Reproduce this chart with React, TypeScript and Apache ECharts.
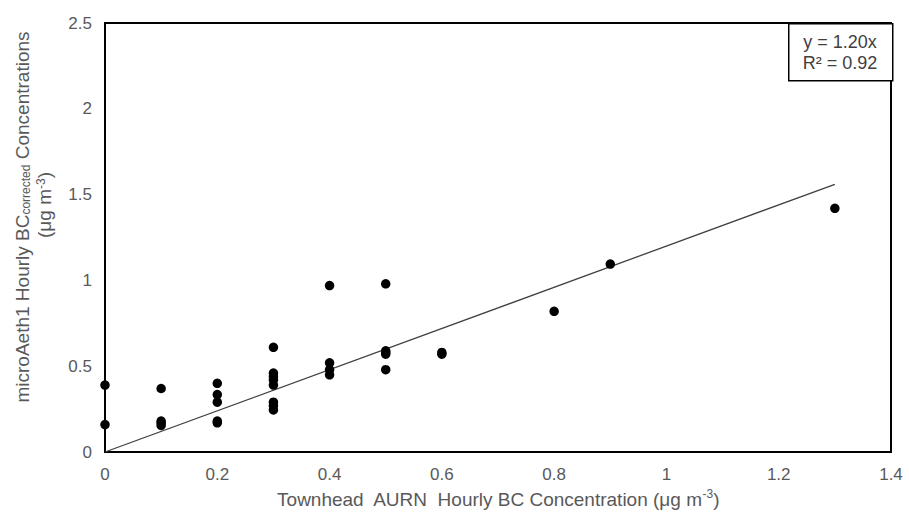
import React, { useEffect, useRef } from "react";
import * as echarts from "echarts";

const X_VALUES = [
  0, 0,
  0.1, 0.1, 0.1, 0.1,
  0.2, 0.2, 0.2, 0.2, 0.2,
  0.3, 0.3, 0.3, 0.3, 0.3, 0.3, 0.3, 0.3,
  0.4, 0.4, 0.4, 0.4,
  0.5, 0.5, 0.5, 0.5, 0.5,
  0.6, 0.6,
  0.8, 0.9, 1.3,
];
const Y_VALUES = [
  0.39, 0.16,
  0.37, 0.18, 0.17, 0.155,
  0.40, 0.335, 0.29, 0.18, 0.17,
  0.61, 0.46, 0.44, 0.42, 0.39, 0.29, 0.27, 0.245,
  0.97, 0.52, 0.48, 0.45,
  0.98, 0.59, 0.58, 0.57, 0.48,
  0.58, 0.57,
  0.82, 1.095, 1.42,
];
const TREND_SLOPE = 1.2;
const TREND_X = [0, 1.3];
const EQUATION_LINES = ["y = 1.20x", "R² = 0.92"];
const X_TITLE = "Townhead  AURN  Hourly BC Concentration (μg m{sup|-3})";
const Y_TITLE_1 = "microAeth1 Hourly BC{sub|corrected} Concentrations";
const Y_TITLE_2 = "(μg m{sup|-3})";

const FONT = "'Liberation Sans', Arial, sans-serif";
const GREY = "#595959";

export default function App() {
  const ref = useRef<HTMLDivElement>(null);
  useEffect(() => {
    document.body.style.margin = "0";
    const chart = echarts.init(ref.current!, undefined, { renderer: "svg" });
    const points = X_VALUES.map((x, i) => [x, Y_VALUES[i]]);
    const trend = TREND_X.map((x) => [x, +(x * TREND_SLOPE).toFixed(4)]);
    const supStyle = { fontSize: 12, fill: GREY, color: GREY, fontFamily: FONT, verticalAlign: "top", lineHeight: 12 };
    const subStyle = { fontSize: 12, fill: GREY, color: GREY, fontFamily: FONT, verticalAlign: "bottom", lineHeight: 12, padding: [8, 0, 0, 0] };
    chart.setOption({
      animation: false,
      backgroundColor: "#fff",
      textStyle: { fontFamily: FONT },
      grid: {
        left: 105,
        right: 18,
        top: 23,
        bottom: 67,
        outerBoundsMode: "none",
        containLabel: false,
        show: true,
        borderColor: "#000",
        borderWidth: 2,
        backgroundColor: "transparent",
      },
      xAxis: {
        type: "value",
        min: 0,
        max: 1.4,
        interval: 0.2,
        axisLine: { show: true, onZero: false, lineStyle: { color: "#000", width: 2 } },
        axisTick: { show: false },
        splitLine: { show: false },
        axisLabel: { color: GREY, fontSize: 17, fontFamily: FONT, margin: 14 },
        name: X_TITLE,
        nameLocation: "middle",
        nameGap: 36,
        nameTextStyle: {
          color: GREY,
          fontSize: 19,
          fontFamily: FONT,
          lineHeight: 22,
          rich: { sup: { ...supStyle, lineHeight: 22, padding: [0, 0, 10, 0] } },
        },
      },
      yAxis: {
        type: "value",
        min: 0,
        max: 2.5,
        interval: 0.5,
        axisLine: { show: true, onZero: false, lineStyle: { color: "#000", width: 2 } },
        axisTick: { show: false },
        splitLine: { show: false },
        axisLabel: { color: GREY, fontSize: 17, fontFamily: FONT, margin: 13 },
      },
      graphic: [
        {
          type: "text",
          x: 22,
          y: 217,
          rotation: Math.PI / 2,
          z: 5,
          style: {
            text: Y_TITLE_1,
            fill: GREY,
            font: `19px ${FONT}`,
            align: "center",
            verticalAlign: "middle",
            rich: { sub: subStyle },
          },
        },
        {
          type: "text",
          x: 44,
          y: 205,
          rotation: Math.PI / 2,
          z: 5,
          style: {
            text: Y_TITLE_2,
            fill: GREY,
            font: `19px ${FONT}`,
            align: "center",
            verticalAlign: "middle",
            rich: { sup: { ...supStyle, padding: [0, 0, 8, 0] } },
          },
        },
        {
          type: "rect",
          left: 788,
          top: 23,
          shape: { width: 104, height: 57 },
          style: { fill: "#fff", stroke: "#000", lineWidth: 1.5 },
          z: 10,
        },
        {
          type: "text",
          x: 840,
          y: 31,
          z: 11,
          style: {
            text: EQUATION_LINES.join("\n"),
            fill: "#404040",
            font: `18px ${FONT}`,
            align: "center",
            lineHeight: 21,
          },
        },
      ],
      series: [
        {
          type: "line",
          data: trend,
          showSymbol: false,
          symbol: "none",
          lineStyle: { color: "#404040", width: 1.3 },
          z: 3,
        },
        {
          type: "scatter",
          data: points,
          symbolSize: 9.5,
          itemStyle: { color: "#000", opacity: 1 },
          z: 4,
        },
      ],
    });
    return () => chart.dispose();
  }, []);
  return <div ref={ref} style={{ position: "fixed", left: 0, top: 0, width: 909, height: 519 }} />;
}
